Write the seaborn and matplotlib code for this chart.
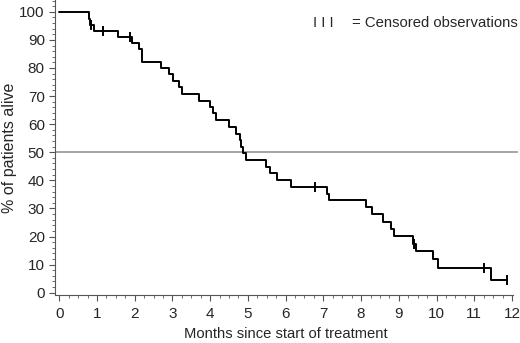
import matplotlib
matplotlib.use("Agg")
import matplotlib.pyplot as plt
import seaborn as sns
import pandas as pd
from matplotlib.ticker import MultipleLocator

# Kaplan-Meier step values
times = [0, 0.79, 0.82, 0.93, 1.55, 1.94, 2.10, 2.20, 2.70, 2.91, 3.02, 3.18, 3.25,
         3.71, 4.00, 4.08, 4.15, 4.51, 4.69, 4.79, 4.82, 4.86, 4.95, 5.48, 5.59,
         5.77, 6.14, 7.09, 7.14, 8.13, 8.29, 8.58, 8.79, 8.87, 9.37, 9.45, 9.90,
         10.05, 11.45, 11.88]
survival = [100, 97.6, 95.3, 93.2, 91.0, 89.0, 86.8, 82.2, 80.0, 77.8, 75.5, 73.3,
            70.7, 68.4, 66.1, 63.8, 61.5, 59.0, 56.4, 54.2, 51.9, 49.6, 47.2, 44.8,
            42.5, 40.1, 37.7, 35.3, 33.0, 30.4, 27.9, 25.3, 22.8, 20.2, 17.4, 14.9,
            11.9, 8.9, 4.5, 4.5]
censor_times = [0.85, 1.17, 1.87, 6.78, 9.40, 11.26, 11.88]
censor_surv = [95.3, 93.2, 91.0, 37.7, 17.4, 8.9, 4.5]
x_ticks = list(range(0, 13))
y_ticks = list(range(0, 101, 10))

sns.set_style("ticks")
plt.rcParams['font.family'] = ['Liberation Sans', 'DejaVu Sans']

fig = plt.figure(figsize=(5.2, 3.43), dpi=100)
ax = fig.add_axes([54.5 / 520, 48 / 343, (518 - 54.5) / 520, (343 - 48) / 343])

df = pd.DataFrame({"t": times, "s": survival})
cdf = pd.DataFrame({"t": censor_times, "s": censor_surv})

ax.axhline(50, color="#8c8c8c", lw=1.1, zorder=1)
sns.lineplot(data=df, x="t", y="s", ax=ax, estimator=None, sort=False,
             drawstyle="steps-post", color="black", lw=1.4, zorder=3)
sns.scatterplot(data=cdf, x="t", y="s", ax=ax, marker="|", s=45, color="black",
                linewidth=1.4, zorder=4)

ax.set_xlim(-0.127, 12.16)
ax.set_ylim(-0.82, 104.2)
ax.spines['bottom'].set_bounds(-0.127, 12.03)
sns.despine(ax=ax)

ax.set_xticks(x_ticks)
ax.set_yticks(y_ticks)
ax.xaxis.set_minor_locator(MultipleLocator(0.25))
ax.yaxis.set_minor_locator(MultipleLocator(2))
ax.tick_params(axis="both", which="major", length=4, width=0.8, labelsize=11,
               color="#555555")
ax.tick_params(axis="x", which="major", pad=5)
ax.tick_params(axis="y", which="major", pad=3)
ax.tick_params(axis="both", which="minor", length=2.5, width=0.6, color="#555555")
for s in ax.spines.values():
    s.set_color("#555555")
    s.set_linewidth(0.8)

ax.set_xlabel("Months since start of treatment", fontsize=10.6)
ax.set_ylabel("% of patients alive", fontsize=11.5)
ax.xaxis.set_label_coords(286 / 520, 1 - 334 / 343, transform=fig.transFigure)
ax.xaxis.label.set_va("center")
ax.yaxis.set_label_coords(10 / 520, 1 - 148 / 343, transform=fig.transFigure)
ax.yaxis.label.set_va("center")

fig.text(313 / 520, 1 - 23 / 343, "I I I", fontsize=10.5, va="center", ha="left")
fig.text(352 / 520, 1 - 23 / 343, "= Censored observations", fontsize=10.7,
         va="center", ha="left")

fig.savefig("out.png", dpi=100)
